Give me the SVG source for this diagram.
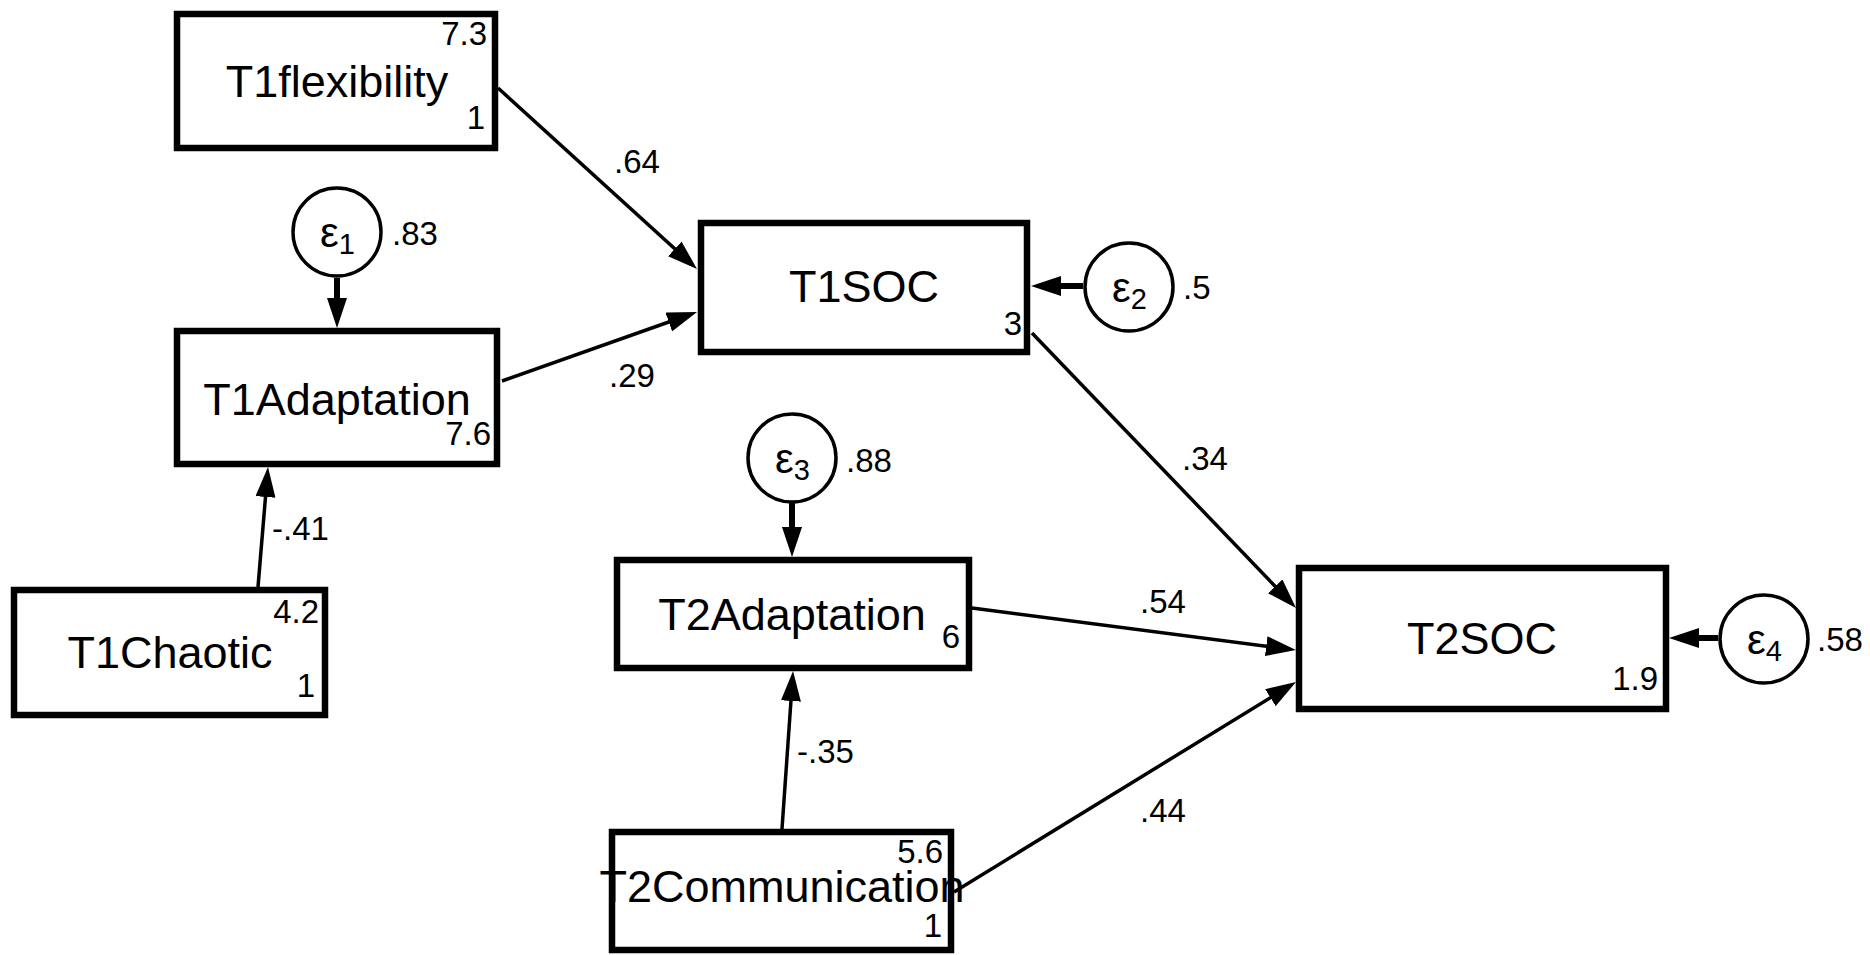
<svg xmlns="http://www.w3.org/2000/svg" width="1870" height="955" viewBox="0 0 1870 955">
<style>
.box{fill:#fff;stroke:#000;stroke-width:6.5}
.err{fill:#fff;stroke:#000;stroke-width:3.5}
.lbl{font-family:"Liberation Sans",Arial,sans-serif;font-size:45px;fill:#000;text-anchor:middle}
.num{font-family:"Liberation Sans",Arial,sans-serif;font-size:33px;fill:#000}
.end{text-anchor:end}
.eps{font-family:"Liberation Sans",Arial,sans-serif;font-size:42px;fill:#000}
.path{stroke:#000;stroke-width:3.5;fill:none;marker-end:url(#ah)}
.thick{stroke:#000;stroke-width:6;fill:none;marker-end:url(#ah)}
</style>
<defs>
<marker id="ah" viewBox="0 0 30 20" refX="15" refY="10" markerWidth="30" markerHeight="20" markerUnits="userSpaceOnUse" orient="auto">
<path d="M0,0 L30,10 L0,20 z" fill="#000"/>
</marker>
</defs>
<rect width="1870" height="955" fill="#fff"/>
<g id="connectors">
<line class="path" x1="498" y1="88" x2="685.9" y2="258.9"/>
<line class="path" x1="502" y1="381" x2="682.9" y2="317"/>
<line class="thick" x1="1083" y1="286" x2="1046" y2="286"/>
<line class="thick" x1="337" y1="278" x2="337" y2="313"/>
<line class="path" x1="258" y1="587" x2="266.75" y2="482"/>
<line class="path" x1="1032" y1="333" x2="1285.6" y2="597.2"/>
<line class="thick" x1="792" y1="503" x2="792" y2="542"/>
<line class="path" x1="972" y1="608" x2="1281.1" y2="648.1"/>
<line class="path" x1="782" y1="829" x2="792" y2="686"/>
<line class="path" x1="954" y1="892" x2="1283.2" y2="689.8"/>
<line class="thick" x1="1718" y1="638" x2="1684" y2="638"/>
<text class="num" x="614" y="173">.64</text>
<text class="num" x="609" y="387">.29</text>
<text class="num" x="272" y="540">-.41</text>
<text class="num" x="1182" y="470">.34</text>
<text class="num" x="1140" y="613">.54</text>
<text class="num" x="797" y="763">-.35</text>
<text class="num" x="1140" y="822">.44</text>
</g>
<g id="T1flexibility">
<rect class="box" x="177" y="14" width="318" height="134"/>
<text class="lbl" x="337" y="97">T1flexibility</text>
<text class="num end" x="487" y="45">7.3</text>
<text class="num end" x="485" y="129">1</text>
</g>
<g id="T1Adaptation">
<rect class="box" x="177" y="331" width="320" height="133"/>
<text class="lbl" x="337" y="415">T1Adaptation</text>
<text class="num end" x="491" y="445">7.6</text>
</g>
<g id="T1Chaotic">
<rect class="box" x="14" y="590" width="311" height="125"/>
<text class="lbl" x="170" y="668">T1Chaotic</text>
<text class="num end" x="319" y="623">4.2</text>
<text class="num end" x="315" y="697">1</text>
</g>
<g id="T1SOC">
<rect class="box" x="701" y="223" width="326" height="129"/>
<text class="lbl" x="864" y="302">T1SOC</text>
<text class="num end" x="1022" y="335">3</text>
</g>
<g id="T2Adaptation">
<rect class="box" x="617" y="560" width="352" height="108"/>
<text class="lbl" x="792" y="630">T2Adaptation</text>
<text class="num end" x="960" y="648">6</text>
</g>
<g id="T2Communication">
<rect class="box" x="612" y="832" width="339" height="118"/>
<text class="lbl" x="782" y="902">T2Communication</text>
<text class="num end" x="943" y="863">5.6</text>
<text class="num end" x="942" y="937">1</text>
</g>
<g id="T2SOC">
<rect class="box" x="1299" y="568" width="367" height="141"/>
<text class="lbl" x="1482" y="654">T2SOC</text>
<text class="num end" x="1658" y="690">1.9</text>
</g>
<g id="e1">
<circle class="err" cx="337" cy="232" r="44"/>
<text class="eps" x="320" y="247">ε<tspan font-size="29" dy="7">1</tspan></text>
<text class="num" x="392" y="245">.83</text>
</g>
<g id="e2">
<circle class="err" cx="1129" cy="287" r="44"/>
<text class="eps" x="1112" y="302">ε<tspan font-size="29" dy="7">2</tspan></text>
<text class="num" x="1183" y="299">.5</text>
</g>
<g id="e3">
<circle class="err" cx="792" cy="458" r="44"/>
<text class="eps" x="775" y="473">ε<tspan font-size="29" dy="7">3</tspan></text>
<text class="num" x="846" y="472">.88</text>
</g>
<g id="e4">
<circle class="err" cx="1764" cy="639" r="44"/>
<text class="eps" x="1747" y="654">ε<tspan font-size="29" dy="7">4</tspan></text>
<text class="num" x="1817" y="651">.58</text>
</g>
</svg>
